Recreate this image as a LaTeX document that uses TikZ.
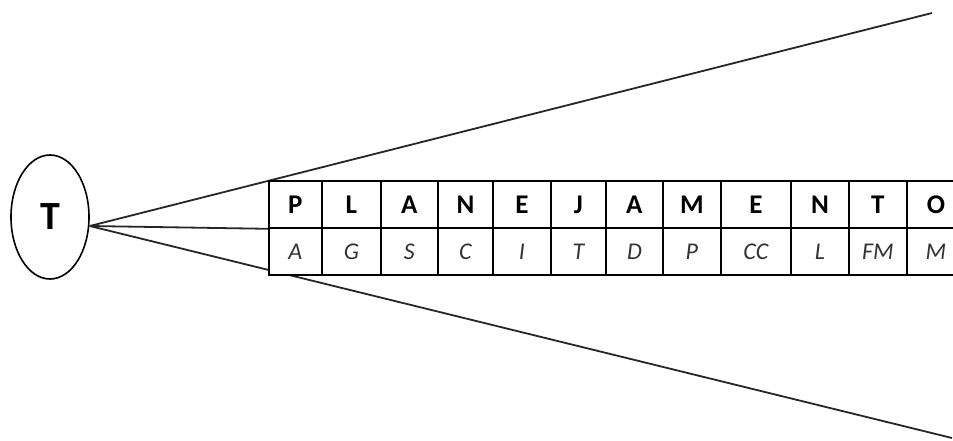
\documentclass[tikz,border=0pt]{standalone}
\usepackage{fontspec}
\setmainfont{Carlito}
\usetikzlibrary{shapes.geometric, backgrounds}

\begin{document}
\begin{tikzpicture}[x=1pt, y=-1pt,
  cell/.style={draw, fill=white, line width=1.8pt, inner sep=0pt, anchor=north west, minimum height=47pt},
  letter/.style={cell, font=\fontsize{27}{27}\selectfont\bfseries},
  initial/.style={cell, font=\fontsize{24}{24}\selectfont\itshape, text=black!80},
  ray/.style={line width=1.8pt, black!85},
]
  \clip (0,0) rectangle (953,441);

  \node[ellipse, draw, line width=1.6pt, minimum width=78pt, minimum height=124pt,
        font=\fontsize{40}{40}\selectfont\bfseries] (t) at (50,217) {T};

  % letters of the word and their initials below
  \foreach \l/\r/\a/\b [count=\i] in {268/321/P/A, 321/380/L/G, 380/437/A/S,
      437/492/N/C, 492/550/E/I, 550/605/J/T, 605/662/A/D, 662/720/M/P,
      720/790/E/CC, 790/848/N/L, 848/906/T/FM, 906/964/O/M}
  {
    \node[letter, minimum width={(\r-\l)*1pt}] (p\i) at (\l,180) {\a};
    \node[initial, minimum width={(\r-\l)*1pt}] (s\i) at (\l,227) {\b};
  }

  \coordinate (apex) at ([yshift=-9pt]t.east);
  \coordinate (up) at (932,13);
  \coordinate (down) at (952,438);

  \begin{scope}[on background layer]
    \draw[ray] (apex) -- (up);
    \draw[ray] (apex) -- (p1.south west);
    \draw[ray] (apex) -- (down);
  \end{scope}

\end{tikzpicture}
\end{document}
